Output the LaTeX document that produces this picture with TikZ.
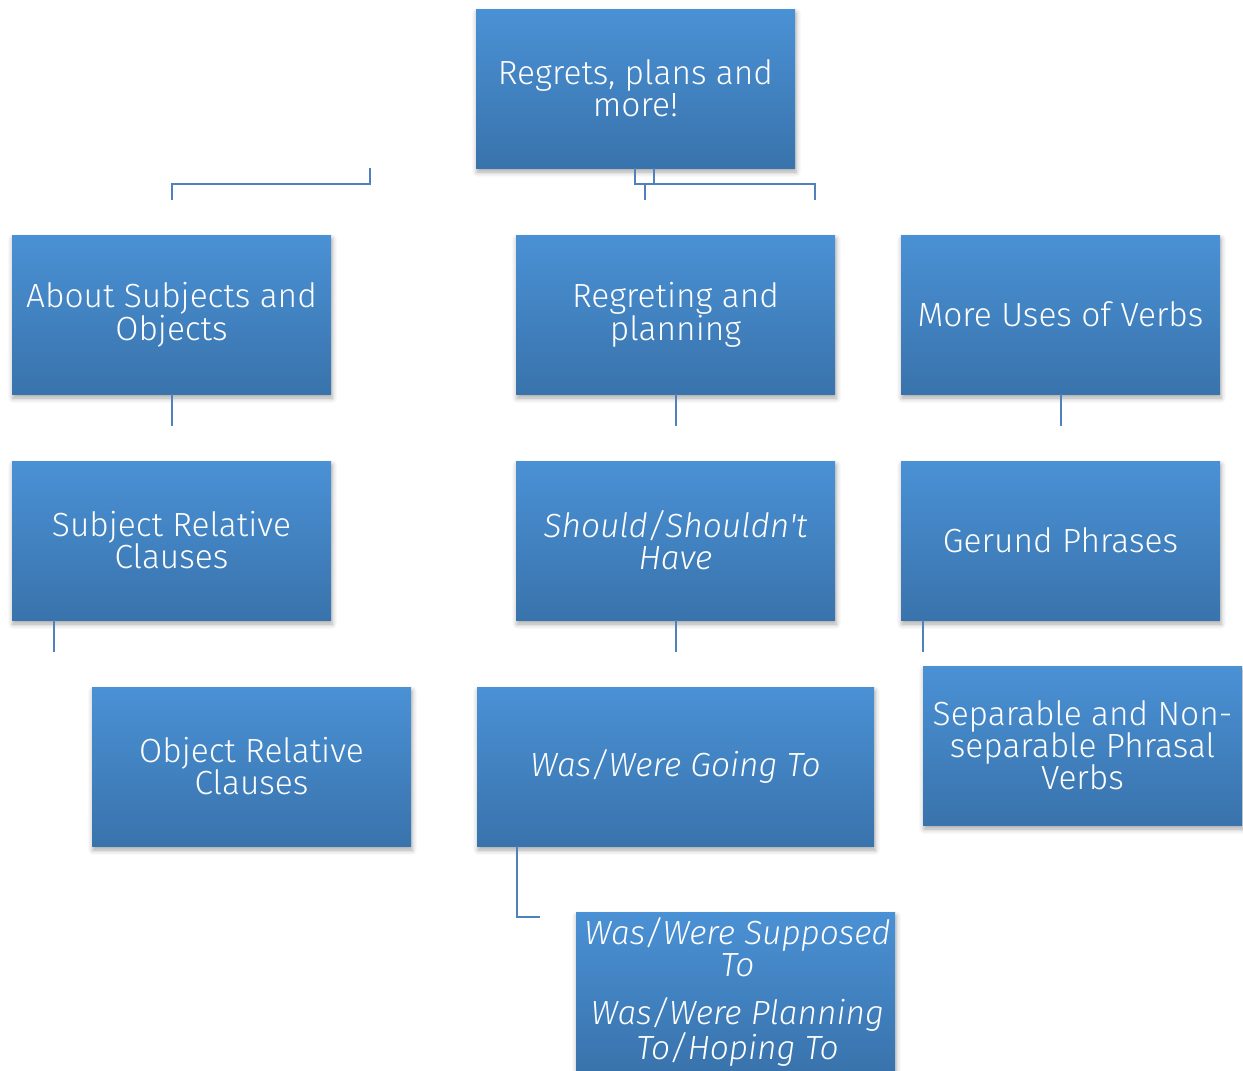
\documentclass[tikz,border=0pt]{standalone}
\usepackage{fontspec}
\setmainfont{Fira Sans Light}[ItalicFont={Fira Sans Light Italic}]
\usetikzlibrary{shadows.blur}
\definecolor{boxtop}{RGB}{74,145,213}
\definecolor{boxbot}{RGB}{57,115,172}
\definecolor{connc}{RGB}{79,129,189}
\begin{document}
\begin{tikzpicture}[x=1pt,y=-1pt,
  box/.style={rectangle, minimum width=319pt, minimum height=159pt, inner sep=0pt,
    top color=boxtop, bottom color=boxbot,
    blur shadow={shadow xshift=1pt, shadow yshift=-4pt, shadow blur radius=5pt, shadow opacity=35},
    text=white, align=center, font=\fontsize{33.5}{32}\selectfont},
  txt/.style={text=white, align=center, inner sep=0pt, font=\fontsize{33.5}{32}\selectfont\itshape},
  connl/.style={draw=connc, line width=2pt}]
\useasboundingbox (0,0) rectangle (1243,1071);
\node[box] (root) at (635.5,88.5) {Regrets, plans and\\more!};
\node[box] (a1) at (171.5,314.5) {About Subjects and\\Objects};
\node[box] (b1) at (675.5,314.5) {Regreting and\\planning};
\node[box] (c1) at (1060.5,314.5) {More Uses of Verbs};
\node[box] (a2) at (171.5,540.5) {Subject Relative\\Clauses};
\node[box, font=\fontsize{33.5}{32}\selectfont\itshape] (b2) at (675.5,540.5) {Should/Shouldn\textquotesingle t\\Have};
\node[box] (c2) at (1060.5,540.5) {Gerund Phrases};
\node[box] (a3) at (251.5,766.5) {Object Relative\\Clauses};
\node[box, minimum width=397pt, font=\fontsize{33.5}{32}\selectfont\itshape] (b3) at (675.5,766.5) {Was/Were Going To};
\node[box] (c3) at (1082.5,745.5) {Separable and Non-\\separable Phrasal\\Verbs};
\node[box] (b4) at (735.5,991.5) {};
\node[txt, anchor=north] (b4t) at ([xshift=2pt,yshift=-6pt]b4.north) {Was/Were Supposed\\To\\[16pt]Was/Were Planning\\To/Hoping To};
% top connectors
\coordinate (l1) at (370,168);
\coordinate (l2) at (172,200);
\draw[connl] (l1) -- (370,184) -- (172,184) -- (l2);
\coordinate (r1) at (635,168);
\coordinate (r2) at (654,168);
\coordinate (r3) at (645,200);
\coordinate (r4) at (815,200);
\draw[connl] (r1) -- (635,184) -- (815,184) -- (r4);
\draw[connl] (r2) -- (654,184);
\draw[connl] (645,184) -- (r3);
% row connectors
\draw[connl] (a1.south) -- ++(0,32);
\draw[connl] (b1.south) -- ++(0,32);
\draw[connl] (c1.south) -- ++(0,32);
\draw[connl] ([xshift=-117.5pt]a2.south) -- ++(0,32);
\draw[connl] (b2.south) -- ++(0,32);
\draw[connl] ([xshift=-137.5pt]c2.south) -- ++(0,32);
\draw[connl] ([xshift=-158.5pt]b3.south) -- ++(0,71) -- ++(23,0);
\end{tikzpicture}
\end{document}
